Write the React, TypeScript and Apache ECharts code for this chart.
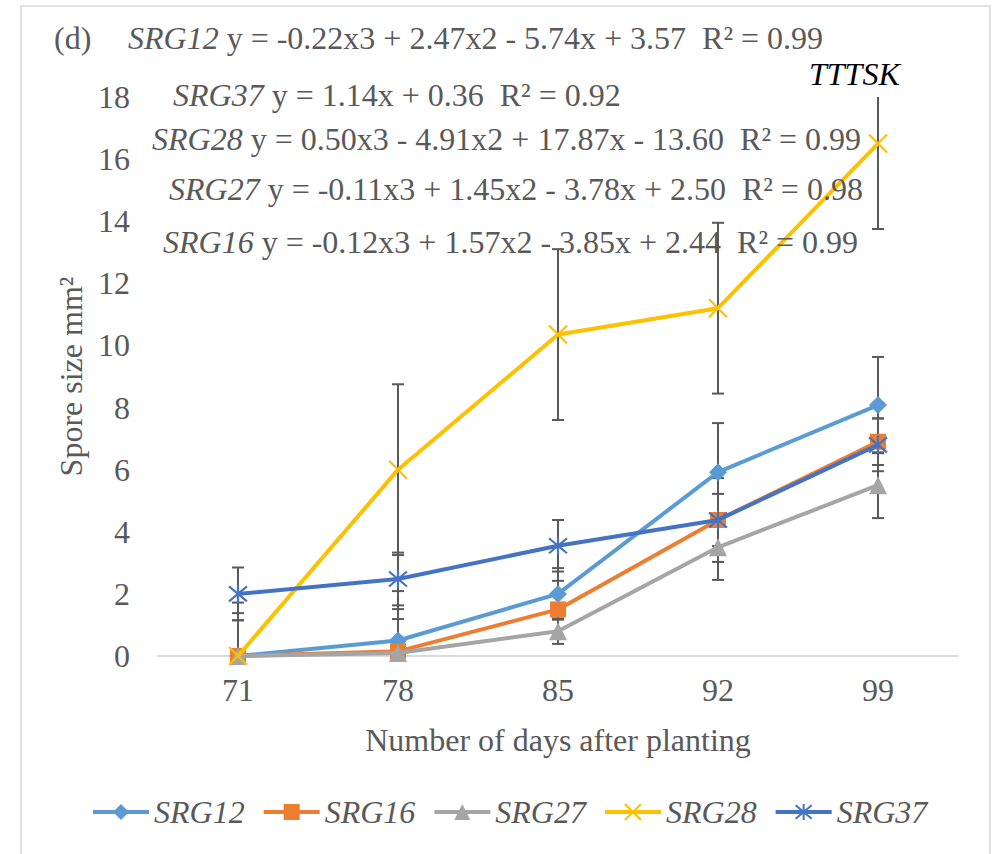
import React, { useEffect, useRef } from "react";
import * as echarts from "echarts";

const days = ["71", "78", "85", "92", "99"];
const yTicks = [0, 2, 4, 6, 8, 10, 12, 14, 16, 18];

const srg12 = [0, 0.5, 2.0, 5.92, 8.08];
const srg16 = [0, 0.15, 1.5, 4.38, 6.9];
const srg27 = [0, 0.1, 0.8, 3.5, 5.5];
const srg28 = [0, 6.0, 10.35, 11.2, 16.5];
const srg37 = [2.0, 2.48, 3.55, 4.38, 6.8];

const srg12Err = [1.72, 1.59, 0.83, 1.58, 1.55];
const srg16Err = [1.38, 1.36, 0.92, 0.84, 0.75];
const srg27Err = [1.15, 1.09, 0.41, 1.05, 1.06];
const srg28Err = [0, 2.75, 2.75, 2.75, 2.75];
const srg37Err = [0.85, 0.85, 0.83, 1.35, 0.85];

const seriesNames = ["SRG12", "SRG16", "SRG27", "SRG28", "SRG37"];
const seriesColors = ["#5B9BD5", "#ED7D31", "#A5A5A5", "#FFC000", "#4472C4"];

const eqNames = ["SRG12", "SRG37", "SRG28", "SRG27", "SRG16"];
const eqTexts = [
  " y = -0.22x3 + 2.47x2 - 5.74x + 3.57  R² = 0.99",
  " y = 1.14x + 0.36  R² = 0.92",
  " y = 0.50x3 - 4.91x2 + 17.87x - 13.60  R² = 0.99",
  " y = -0.11x3 + 1.45x2 - 3.78x + 2.50  R² = 0.98",
  " y = -0.12x3 + 1.57x2 - 3.85x + 2.44  R² = 0.99",
];
const panelLabel = "(d)";
const noteLabel = "TTTSK";
const xName = "Number of days after planting";
const yName = "Spore size mm²";

const FONT = "Liberation Serif";
const GRAY = "#595959";
const Y_MIN = 0;
const Y_MAX = 18;

export default function App() {
  const ref = useRef<HTMLDivElement>(null);

  useEffect(() => {
    if (!ref.current) return;
    const chart = echarts.init(ref.current, undefined, { renderer: "svg" });

    const values = [srg12, srg16, srg27, srg28, srg37];
    const errs = [srg12Err, srg16Err, srg27Err, srg28Err, srg37Err];
    const symbols = [
      "diamond",
      "rect",
      "triangle",
      "path://M0,0L10,10M10,0L0,10",
      "path://M0,0L10,10M10,0L0,10M5,-1L5,11",
    ];
    const symbolSizes = [18, 16, 18, 18, 18];
    const strokeSymbol = [false, false, false, true, true];

    const errData: number[][] = [];
    values.forEach((vals, s) => {
      vals.forEach((v, i) => errData.push([i, v, errs[s][i]]));
    });

    const lineSeries = seriesNames.map((name, s) => ({
      name,
      type: "line",
      data: values[s],
      symbol: symbols[s],
      symbolSize: symbolSizes[s],
      showAllSymbol: true,
      lineStyle: { color: seriesColors[s], width: 4 },
      itemStyle: {
        color: seriesColors[s],
        borderColor: seriesColors[s],
        borderWidth: strokeSymbol[s] ? 2.2 : 0,
      },
      z: 3 + s,
    }));

    const eqPos = [
      [128, 38],
      [173, 95],
      [152, 139],
      [169, 189],
      [163, 242],
    ];

    const graphics: any[] = [
      {
        type: "rect",
        shape: { x: 21, y: 6, width: 969, height: 900 },
        style: { fill: "none", stroke: "#d9d9d9", lineWidth: 1.5 },
        silent: true,
        z: 0,
      },
      {
        type: "text",
        x: 54,
        y: 38,
        style: {
          text: panelLabel,
          fontFamily: FONT,
          fontSize: 32,
          fill: GRAY,
          verticalAlign: "middle",
        },
        z: 10,
      },
      {
        type: "text",
        x: 809,
        y: 74,
        style: {
          text: noteLabel,
          fontFamily: FONT,
          fontSize: 32,
          fontStyle: "italic",
          fill: "#000000",
          verticalAlign: "middle",
        },
        z: 10,
      },
      ...eqNames.map((n, k) => ({
        type: "text",
        x: eqPos[k][0],
        y: eqPos[k][1],
        style: {
          text: `{it|${n}}${eqTexts[k]}`,
          fontFamily: FONT,
          fontSize: 32,
          fill: GRAY,
          verticalAlign: "middle",
          rich: {
            it: {
              fontFamily: FONT,
              fontSize: 32,
              fontStyle: "italic",
              fill: GRAY,
            },
          },
        },
        z: 10,
      })),
    ];

    chart.setOption({
      animation: false,
      backgroundColor: "#ffffff",
      grid: { left: 158, right: 36, top: 97, bottom: 198, containLabel: false },
      legend: {
        data: seriesNames,
        left: 86,
        top: 791,
        itemWidth: 56,
        itemHeight: 20,
        itemGap: 17,
        lineStyle: { width: 4 },
        textStyle: {
          fontFamily: FONT,
          fontSize: 32,
          fontStyle: "italic",
          color: GRAY,
        },
      },
      xAxis: {
        type: "category",
        data: days,
        boundaryGap: true,
        axisLine: { show: true, lineStyle: { color: "#d9d9d9", width: 2 } },
        axisTick: { show: false },
        axisLabel: {
          fontFamily: FONT,
          fontSize: 32,
          color: GRAY,
          margin: 18,
        },
        name: xName,
        nameLocation: "middle",
        nameGap: 68,
        nameTextStyle: { fontFamily: FONT, fontSize: 32, color: GRAY },
      },
      yAxis: {
        type: "value",
        min: Y_MIN,
        max: Y_MAX,
        interval: 2,
        axisLine: { show: false },
        axisTick: { show: false },
        splitLine: { show: false },
        axisLabel: {
          fontFamily: FONT,
          fontSize: 32,
          color: GRAY,
          margin: 28,
          formatter: (v: number) => (yTicks.includes(v) ? String(v) : ""),
        },
        name: yName,
        nameLocation: "middle",
        nameGap: 70,
        nameTextStyle: { fontFamily: FONT, fontSize: 32, color: GRAY },
      },
      series: [
        {
          type: "custom",
          name: "errors",
          data: errData,
          encode: { x: 0, y: 1 },
          z: 2,
          silent: true,
          renderItem: (_params: any, api: any) => {
            const i = api.value(0);
            const v = api.value(1);
            const e = api.value(2);
            if (!e) return { type: "group", children: [] };
            const hiV = Math.min(v + e, Y_MAX);
            const loV = Math.max(v - e, Y_MIN);
            const top = api.coord([i, hiV]);
            const bot = api.coord([i, loV]);
            const st = { stroke: GRAY, lineWidth: 2 };
            const children: any[] = [
              {
                type: "line",
                shape: { x1: top[0], y1: top[1], x2: bot[0], y2: bot[1] },
                style: st,
              },
            ];
            const hw = 6;
            if (v + e <= Y_MAX)
              children.push({
                type: "line",
                shape: { x1: top[0] - hw, y1: top[1], x2: top[0] + hw, y2: top[1] },
                style: st,
              });
            if (v - e >= Y_MIN)
              children.push({
                type: "line",
                shape: { x1: bot[0] - hw, y1: bot[1], x2: bot[0] + hw, y2: bot[1] },
                style: st,
              });
            return { type: "group", children };
          },
        },
        ...lineSeries,
      ],
      graphic: graphics,
    });

    return () => chart.dispose();
  }, []);

  return (
    <div
      ref={ref}
      style={{
        position: "fixed",
        left: 0,
        top: 0,
        width: 994,
        height: 854,
        background: "#ffffff",
      }}
    />
  );
}
